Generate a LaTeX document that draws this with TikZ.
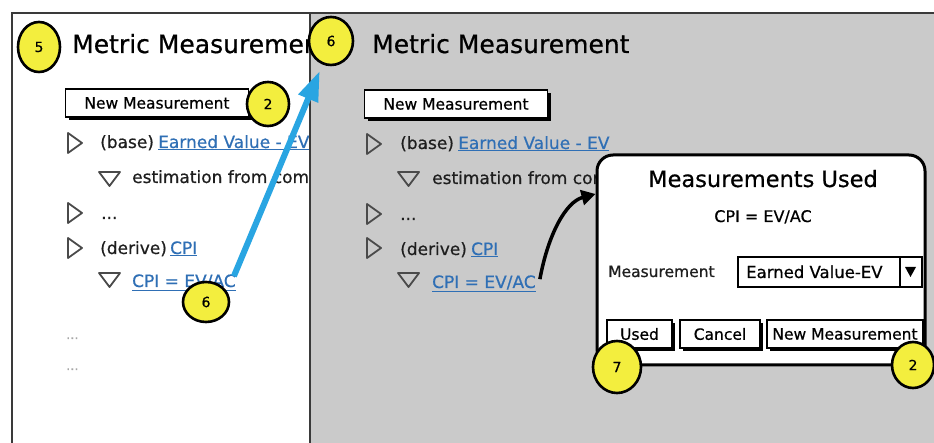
\documentclass[tikz,border=0pt]{standalone}
\usepackage{fontspec}
\setmainfont{DejaVu Sans}[FakeBold=0.6]
\usetikzlibrary{arrows.meta,calc,shapes.geometric,shadows}
\definecolor{panelgray}{HTML}{CACACA}
\definecolor{linkblue}{HTML}{2F6FB5}
\definecolor{hlyellow}{HTML}{F3EE3E}
\definecolor{arrowblue}{HTML}{29A5E2}
\definecolor{tridark}{HTML}{4A4A4A}
\definecolor{textdark}{HTML}{1E1E1E}
\definecolor{framedark}{HTML}{3A3A3A}
\newcommand\mybody{\fontsize{17}{20}\selectfont}
\newcommand\mytitle{\fontsize{25}{28}\selectfont}
\newcommand\mybtn{\fontsize{15.5}{18}\selectfont}
\newcommand\mybadge{\fontsize{14}{15}\selectfont}
\tikzset{
  txt/.style={anchor=base west, inner sep=0pt, text=textdark, font=\mybody},
  lnk/.style={txt, text=linkblue},
  ttl/.style={anchor=base west, inner sep=0pt, text=black, font=\mytitle},
  btn/.style={draw=black, fill=white, line width=1.2pt, inner sep=0pt,
    minimum height=28pt, font=\mybtn, text=black,
    drop shadow={shadow xshift=3pt, shadow yshift=-3pt, fill=black, opacity=1}},
  badge/.style={ellipse, fill=hlyellow, draw=black, line width=2.6pt,
    inner sep=0pt, font=\mybadge, text=black},
  tri/.style={draw=tridark, line width=1.8pt, line join=round},
  frame/.style={draw=framedark, line width=1.8pt},
  dots/.style={anchor=base west, inner sep=0pt, text=gray!70, font=\fontsize{13}{14}\selectfont}
}
\begin{document}
\begin{tikzpicture}[x=1pt,y=-1pt]
\useasboundingbox (0,0) rectangle (934,443);
\fill[white] (0,0) rectangle (934,443);

% ---------- left panel ----------
\fill[white] (12,13) rectangle (310,443);
\draw[frame] (12,443) -- (12,13) -- (310,13);
\begin{scope}
\clip (12,13) rectangle (309,443);
\node[ttl] (titleL) at (72,53) {Metric Measurement};
\node[btn, minimum width=183pt] (newL) at (157,103) {New Measurement};
\draw[tri] (68,133) -- (82,143) -- (68,153) -- cycle;
\node[txt] (baseL) at (100,148) {(base)};
\node[lnk] (evL) at (158,148) {\underline{Earned Value - EV}};
\draw[tri] (99,172) -- (120,172) -- (109.5,186) -- cycle;
\node[txt] (estL) at (132,183) {estimation from completion};
\draw[tri] (68,203) -- (82,213) -- (68,223) -- cycle;
\node[txt] (dotsL) at (101,219) {...};
\draw[tri] (68,238) -- (82,248) -- (68,258) -- cycle;
\node[txt] (derL) at (100,254) {(derive)};
\node[lnk] (cpiLinkL) at (170,254) {\underline{CPI}};
\draw[tri] (99,273) -- (120,273) -- (109.5,287) -- cycle;
\node[lnk] (cpiL) at (132,287) {\underline{CPI = EV/AC}};
\node[dots] (moreA) at (66,339) {...};
\node[dots] (moreB) at (66,370) {...};
\end{scope}

% ---------- right (gray) panel ----------
\fill[panelgray] (310,13) rectangle (934,443);
\draw[frame] (310,443) -- (310,13) -- (934,13);
\node[ttl] (titleR) at (372,53) {Metric Measurement};
\node[btn, minimum width=183pt] (newR) at (456,104) {New Measurement};
\draw[tri] (367,134) -- (381,144) -- (367,154) -- cycle;
\node[txt] (baseR) at (400,149) {(base)};
\node[lnk] (evR) at (458,149) {\underline{Earned Value - EV}};
\draw[tri] (398,172) -- (419,172) -- (408.5,186) -- cycle;
\begin{scope}
\clip (310,13) rectangle (597,443);
\node[txt] (estR) at (432,184) {estimation from completion};
\end{scope}
\draw[tri] (367,204) -- (381,214) -- (367,224) -- cycle;
\node[txt] (dotsR) at (400,220) {...};
\draw[tri] (367,238) -- (381,248) -- (367,258) -- cycle;
\node[txt] (derR) at (400,255) {(derive)};
\node[lnk] (cpiLinkR) at (471,255) {\underline{CPI}};
\draw[tri] (398,273) -- (419,273) -- (408.5,287) -- cycle;
\node[lnk] (cpiR) at (432,288) {\underline{CPI = EV/AC}};

% ---------- dialog ----------
\node[draw=black, fill=white, line width=3pt, rounded corners=16pt,
      minimum width=328pt, minimum height=210pt] (dlg) at (761,260) {};
\node[anchor=base, inner sep=0pt, font=\fontsize{22.5}{26}\selectfont] (dlgTitle) at (763,187) {Measurements Used};
\node[anchor=base, inner sep=0pt, font=\fontsize{16}{18}\selectfont] (dlgSub) at (763,222) {CPI = EV/AC};
\node[txt, font=\fontsize{15.5}{18}\selectfont] (measLbl) at (608,277) {Measurement};
\node[draw=black, line width=1.3pt, fill=white, minimum width=184pt, minimum height=30pt, inner sep=0pt] (combo) at (830,272) {};
\draw[line width=1.3pt] (900,257) -- (900,287);
\node[txt, font=\fontsize{16.5}{18}\selectfont, text=black] (comboTxt) at (746,278) {Earned Value-EV};
\fill[black] (905,267) -- (916,267) -- (910.5,277) -- cycle;
\node[btn, minimum width=65pt] (usedBtn) at (639.5,334) {Used};
\node[btn, minimum width=80pt] (cancelBtn) at (720,334) {Cancel};
\node[btn, minimum width=156pt] (newDlgBtn) at (845,334) {New Measurement};

% ---------- black curved arrow ----------
\coordinate (dlgIn) at ($(dlg.north west)!0.19!(dlg.south west)$);
\draw[line width=3.5pt, -{Triangle[length=14pt,width=15pt]}]
  ($(cpiR.north east)+(4,4)$) .. controls ($(cpiR.north east)+(12,-40)$) and ($(dlgIn)+(-30,8)$) .. (dlgIn);

% ---------- badges ----------
\node[badge, minimum width=42pt, minimum height=50pt] (b5) at (39,47) {5};
\node[badge, minimum width=42pt, minimum height=44pt] (b2L) at (268,104) {2};
\node[badge, minimum width=46pt, minimum height=40pt] (b6L) at (206,302) {6};
\node[badge, minimum width=44pt, minimum height=48pt] (b6R) at (331,41) {6};
\node[badge, minimum width=48pt, minimum height=52pt] (b7) at (617,367) {7};
\node[badge, minimum width=42pt, minimum height=46pt] (b2R) at (913,365) {2};

% ---------- blue arrow ----------
\draw[arrowblue, line width=6pt, -{Triangle[length=30pt,width=20pt]}, shorten >=7pt]
  ($(cpiL.north east)+(-2,2)$) -- (b6R.250);
\end{tikzpicture}
\end{document}
